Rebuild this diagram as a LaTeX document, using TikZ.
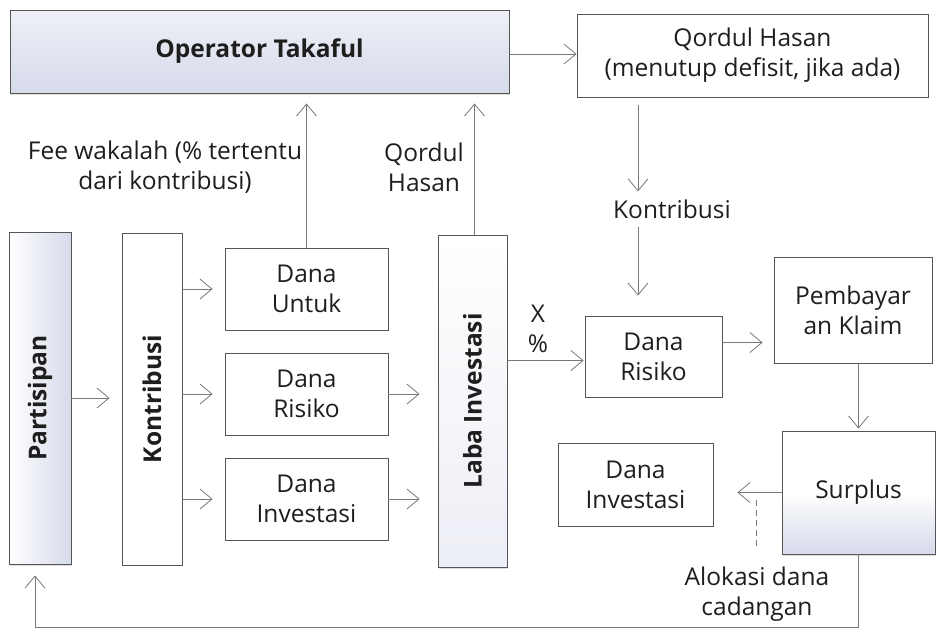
\documentclass[tikz,border=0pt]{standalone}
\usepackage{fontspec}
\setmainfont{Open Sans}
\usetikzlibrary{arrows.meta,shadows,calc}
\definecolor{linegray}{RGB}{120,120,120}
\definecolor{boxgray}{RGB}{85,85,85}
\definecolor{shadeblue}{RGB}{214,218,234}
\definecolor{txt}{RGB}{30,30,30}
\tikzset{
  box/.style={draw=boxgray, line width=0.9pt, fill=white, align=center, inner sep=0pt, text=txt, font=\fontsize{24.5}{30}\selectfont},
  shadedbox/.style={box, drop shadow={opacity=0.25, shadow xshift=1pt, shadow yshift=-2pt}},
  arr/.style={draw=linegray, line width=0.8pt, -{Straight Barb[length=12pt,width=20pt,line width=0.8pt]}},
  plain/.style={draw=linegray, line width=0.8pt},
  lbl/.style={align=center, inner sep=0pt, text=txt, font=\fontsize{24.5}{30}\selectfont},
  vtext/.style={rotate=90, inner sep=0pt, text=txt, font=\fontsize{24.5}{30}\selectfont\bfseries},
}
\begin{document}
\begin{tikzpicture}[x=1pt,y=-1pt]
\useasboundingbox (0,0) rectangle (938,630);
% top row
\node[shadedbox, top color=shadeblue!40, bottom color=shadeblue, minimum width=499, minimum height=83, font=\fontsize{24.5}{30}\selectfont\bfseries] (op) at (259.5,51.5) {Operator Takaful};
\node[box, minimum width=351, minimum height=83] (qh) at (752.5,55.5) {Qordul Hasan\\(menutup defisit, jika ada)};
% left columns
\node[shadedbox, left color=white, right color=shadeblue, minimum width=62, minimum height=332] (part) at (40,398) {};
\node[vtext] (partT) at (part) {Partisipan};
\node[box, minimum width=60, minimum height=332] (kon) at (152,399) {};
\node[vtext] (konT) at (kon) {Kontribusi};
\node[box, minimum width=163, minimum height=82] (du) at (306.5,289) {Dana\\Untuk};
\node[box, minimum width=163, minimum height=82] (dr1) at (306.5,394) {Dana\\Risiko};
\node[box, minimum width=163, minimum height=82] (di1) at (306.5,499) {Dana\\Investasi};
\node[shadedbox, top color=white, bottom color=shadeblue!45, minimum width=69, minimum height=332] (laba) at (472.5,401) {};
\node[vtext] (labaT) at (laba) {Laba Investasi};
% right part
\node[box, minimum width=137, minimum height=81] (dr2) at (653.5,356.5) {Dana\\Risiko};
\node[box, minimum width=158, minimum height=106] (pk) at (853,310) {Pembayar\\an Klaim};
\node[shadedbox, top color=white, bottom color=shadeblue, middle color=white, minimum width=153, minimum height=123] (sur) at (858.5,492.5) {Surplus};
\node[box, minimum width=155, minimum height=83] (di2) at (635.5,484.5) {Dana\\Investasi};
% labels
\node[lbl] (feeL) at (165,167) {Fee wakalah (\% tertentu\\dari kontribusi)};
\node[lbl] (qhL) at (424,167) {Qordul\\Hasan};
\node[lbl] (konL) at (672,209) {Kontribusi};
\node[lbl] (xL) at (538,329) {X\\\%};
\node[lbl] (alL) at (757,594) {Alokasi dana\\cadangan};
% helper coordinates
\coordinate (kx) at (638,0);
\coordinate (opout) at (509,54);
\coordinate (botL) at (35,627);
\coordinate (labaTop) at ($(laba.north)+(2,0)$);
\coordinate (dr2in) at ($(dr2.west)+(0,4)$);
\coordinate (dr2out) at ($(dr2.east)+(0,-14)$);
\coordinate (dashTop) at (756,500);
\coordinate (dashBot) at (756,548);
% connectors
\draw[arr] (op.east |- opout) -- (qh.west |- opout);
\draw[arr] ($(qh.south -| kx)+(0,8)$) -- ($(konL.north -| kx)+(0,-8)$);
\draw[arr] ($(konL.south -| kx)+(0,8)$) -- ($(dr2.north -| kx)+(0,-20)$);
\draw[arr, shorten >=12pt] (part.east) -- (kon.west |- part.east);
\draw[arr, shorten >=12pt] (kon.east |- du.west) -- (du.west);
\draw[arr, shorten >=12pt] (kon.east |- dr1.west) -- (dr1.west);
\draw[arr, shorten >=12pt] (kon.east |- di1.west) -- (di1.west);
\draw[arr, shorten >=18pt] (dr1.east) -- (laba.west |- dr1.east);
\draw[arr, shorten >=18pt] (di1.east) -- (laba.west |- di1.east);
\draw[arr, shorten >=10pt] (du.north) -- (op.south -| du.north);
\draw[arr, shorten >=10pt] (labaTop) -- (op.south -| labaTop);
\draw[arr, shorten >=1pt] (laba.east |- dr2in) -- (dr2in);
\draw[arr, shorten >=11pt] (dr2out) -- (pk.west |- dr2out);
\draw[arr, shorten >=2pt] (pk.south -| sur.north) -- (sur.north);
\draw[arr, shorten >=24pt] (sur.west) -- (di2.east |- sur.west);
\draw[plain, dash pattern=on 6pt off 4pt] (dashTop) -- (dashBot);
\draw[arr, shorten >=11pt] (sur.south) -- (sur.south |- botL) -- (botL) -- (part.south -| botL);
\end{tikzpicture}
\end{document}
